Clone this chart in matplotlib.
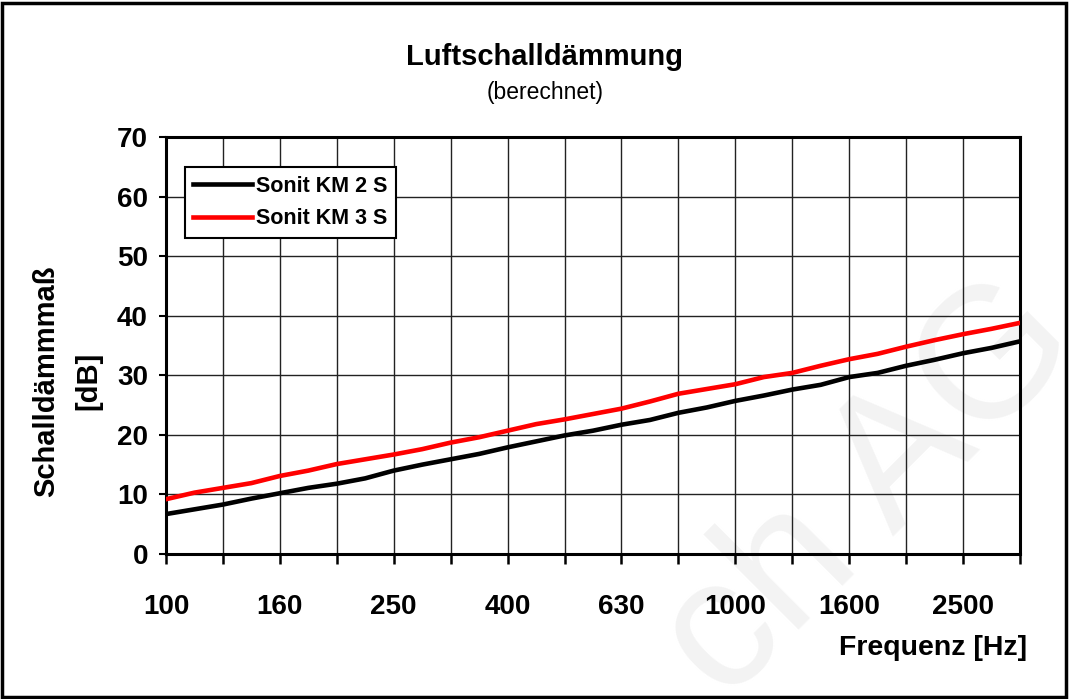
import numpy as np
import matplotlib
matplotlib.use("Agg")
import matplotlib.pyplot as plt
from matplotlib.patches import Rectangle

plt.rcParams['font.family'] = ['Liberation Sans', 'DejaVu Sans']

# third-octave band labels (axis categories)
band_labels = ["100", "125", "160", "200", "250", "315", "400", "500", "630",
               "800", "1000", "1250", "1600", "2000", "2500", "3150"]
# points along the curve (1/6-octave steps)
freq_points = [100, 112, 125, 140, 160, 180, 200, 224, 250, 280, 315, 355, 400,
               450, 500, 560, 630, 710, 800, 900, 1000, 1120, 1250, 1400, 1600,
               1800, 2000, 2240, 2500, 2800, 3150]
km2s = [6.7, 7.5, 8.3, 9.3, 10.2, 11.1, 11.8, 12.7, 14.0, 15.0, 15.9, 16.8, 17.9,
        18.9, 19.9, 20.7, 21.7, 22.5, 23.7, 24.6, 25.7, 26.6, 27.6, 28.4, 29.7,
        30.4, 31.6, 32.6, 33.7, 34.6, 35.7]
km3s = [9.2, 10.3, 11.1, 11.9, 13.1, 14.0, 15.1, 15.9, 16.7, 17.6, 18.7, 19.6, 20.7,
        21.8, 22.6, 23.5, 24.4, 25.6, 26.9, 27.7, 28.5, 29.7, 30.4, 31.6, 32.7,
        33.6, 34.8, 35.9, 36.9, 37.8, 38.8]
series_names = ["Sonit KM 2 S", "Sonit KM 3 S"]
shown_labels = ["100", "160", "250", "400", "630", "1000", "1600", "2500"]

fig = plt.figure(figsize=(10.69, 6.99), dpi=100)
fig.patch.set_facecolor("white")

# faint watermark (behind everything)
fig.text(725/1069, 1-705/699, "ch AG", rotation=45, rotation_mode='anchor',
         ha='left', va='baseline', fontsize=134, color='#f3f3f3', zorder=-5,
         clip_on=True)

ax = fig.add_axes([166/1069, 1-554/699, (1020-166)/1069, (554-137)/699])
ax.set_facecolor('none')
ax.set_zorder(1)

x_pts = np.arange(len(freq_points)) * 0.5  # half-band steps on category axis

ax.plot(x_pts, km2s, color='black', lw=3.3, label=series_names[0], zorder=3)
ax.plot(x_pts, km3s, color='#ff0000', lw=3.3, label=series_names[1], zorder=3)

ax.set_xlim(0, len(band_labels) - 1)
ax.set_ylim(0, 70)
ax.set_yticks(np.arange(0, 71, 10))
ax.set_xticks(np.arange(len(band_labels)))
ax.set_xticklabels([l if l in shown_labels else "" for l in band_labels])
ax.grid(True, color='#222222', lw=1.0, zorder=1)
ax.set_axisbelow(True)

for s in ax.spines.values():
    s.set_linewidth(2.2)
    s.set_color('black')

ax.tick_params(axis='x', direction='out', length=7, width=1.8, pad=22, labelsize=20)
ax.tick_params(axis='y', direction='out', length=5, width=1.5, pad=8, labelsize=20)
for lab in ax.get_xticklabels() + ax.get_yticklabels():
    lab.set_fontweight('bold')

leg = ax.legend(loc='upper left', bbox_to_anchor=(0.022, 0.928), borderaxespad=0,
                fancybox=False, framealpha=1, edgecolor='black', handlelength=2.7,
                handletextpad=0.2, borderpad=0.4, labelspacing=0.55,
                prop={'weight': 'bold', 'size': 15.5})
leg.get_frame().set_linewidth(1.5)

fig.text(545/1069, 1-57/699, "Luftschalldämmung", ha='center', va='center',
         fontsize=21, fontweight='bold')
fig.text(545/1069, 1-92/699, "(berechnet)", ha='center', va='center', fontsize=16.5)

fig.text(46/1069, 1-381/699, "Schalldämmmaß", rotation=90, ha='center', va='center',
         fontsize=21, fontweight='bold')
fig.text(88/1069, 1-381/699, "[dB]", rotation=90, ha='center', va='center',
         fontsize=21, fontweight='bold')
fig.text(1027/1069, 1-648/699, "Frequenz [Hz]", ha='right', va='center',
         fontsize=20.5, fontweight='bold')

fig.add_artist(Rectangle((0.002, 0.003), 0.995, 0.993, transform=fig.transFigure,
                         fill=False, lw=2.5, edgecolor='black'))

fig.savefig("out.png", dpi=100, facecolor='white')
